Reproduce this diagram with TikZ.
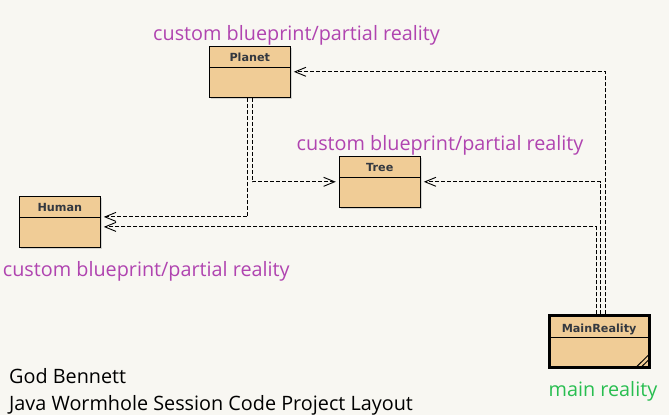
\documentclass[tikz,border=0pt]{standalone}
\usepackage{fontspec}
\setmainfont{Open Sans}
\newfontfamily\classfont{DejaVu Sans}
\usepackage{xcolor}
\usetikzlibrary{arrows.meta, calc, shadows}
\definecolor{boxfill}{RGB}{240,204,150}
\definecolor{canvas}{RGB}{248,247,242}
\definecolor{notepurple}{RGB}{176,68,176}
\definecolor{notegreen}{RGB}{40,190,80}
\definecolor{titlegrey}{RGB}{51,56,64}
\tikzset{
  classbox/.style={draw=black, line width=1pt, fill=boxfill, minimum width=81pt, minimum height=51pt,
    inner sep=0pt, font=\classfont\bfseries\fontsize{11.2}{13}\selectfont, text=titlegrey,
    text height=15.5pt, text depth=35.5pt,
    drop shadow={shadow xshift=1.5pt, shadow yshift=-1.5pt, opacity=0.3},
    path picture={\draw[line width=1pt] ([yshift=-#1]path picture bounding box.north west)
      -- ([yshift=-#1]path picture bounding box.north east);}},
  classbox/.default=21pt,
  dep/.style={draw=black, line width=0.9pt, dash pattern=on 4pt off 2pt,
    -{Straight Barb[length=11pt,width=9pt,line width=0.9pt]}, shorten >=3pt},
  note/.style={anchor=base west, inner sep=0pt, font=\fontsize{19.8}{23}\selectfont}
}
\begin{document}
\begin{tikzpicture}[x=1pt, y=-1pt]
\fill[canvas] (0,0) rectangle (669,415);
\useasboundingbox (0,0) rectangle (669,415);

% classes
\node[classbox] (planet) at (249.8,71.8) {Planet};
\node[classbox] (tree) at (379.8,181.8) {Tree};
\node[classbox] (human) at (59.8,221.9) {Human};
\node[classbox=22pt, line width=3pt, minimum width=100pt, minimum height=52pt,
  text height=16pt] (main) at (599.1,341.8) {MainReality};
\draw[line width=1pt] ([xshift=-15pt,yshift=1.5pt]main.south east) -- ([xshift=-1.4pt,yshift=15pt]main.south east);
\draw[line width=1pt] ([xshift=-10pt,yshift=1.5pt]main.south east) -- ([xshift=-1.4pt,yshift=10pt]main.south east);

% dependencies
\draw[dep] ([xshift=6.2pt]main.north) |- (planet.east);
\draw[dep] ([xshift=1.6pt]main.north) |- (tree.east);
\draw[dep] ([xshift=-3.1pt]main.north) |- ([yshift=-5pt]human.east);
\draw[dep] ([xshift=2.5pt]planet.south) |- (tree.west);
\draw[dep] ([xshift=-2.1pt]planet.south) |- ([yshift=5pt]human.east);

% notes
\node[note, text=notepurple] (planetnote) at (153,40) {custom blueprint/partial reality};
\node[note, text=notepurple] (treenote) at (296.5,150) {custom blueprint/partial reality};
\node[note, text=notepurple] (humannote) at (2.7,276.5) {custom blueprint/partial reality};
\node[note, text=notegreen] (mainnote) at (548.5,396) {main reality};
\node[note] (author) at (9,383) {God Bennett};
\node[note] (caption) at (9,410) {Java Wormhole Session Code Project Layout};
\end{tikzpicture}
\end{document}
